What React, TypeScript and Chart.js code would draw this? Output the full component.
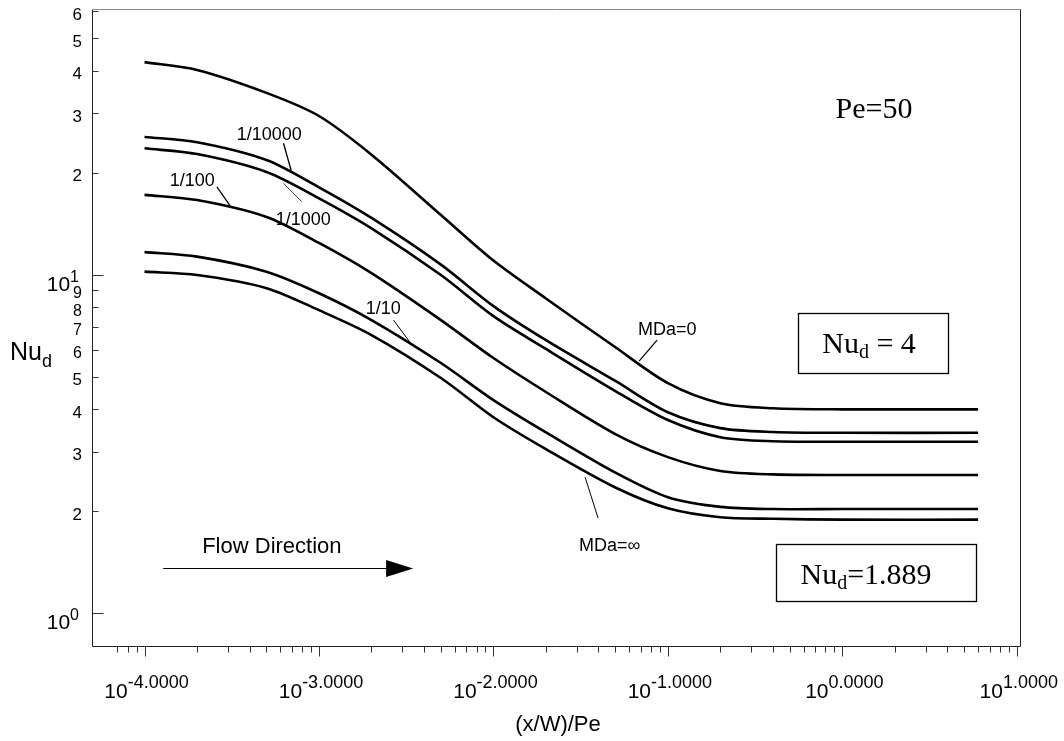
import React, { useEffect, useRef } from "react";
import { Chart, registerables } from "chart.js";

Chart.register(...registerables);

// ---- data ----
const xValues = [1e-4, 2e-4, 5e-4, 1e-3, 2e-3, 5e-3, 1e-2, 2e-2, 5e-2, 1e-1, 2e-1, 4e-1, 1, 6];
const nuMDa0 = [42.4, 40.2, 34.4, 29.4, 22.6, 15.0, 11.0, 8.5, 6.1, 4.78, 4.17, 4.03, 4.0, 4.0];
const nuMDa1e4 = [25.5, 24.6, 21.8, 18.1, 14.7, 10.7, 8.07, 6.4, 4.85, 3.92, 3.52, 3.43, 3.41, 3.41];
const nuMDa1e3 = [23.6, 22.7, 20.1, 16.8, 13.7, 9.97, 7.54, 6.03, 4.53, 3.72, 3.31, 3.22, 3.21, 3.21];
const nuMDa1e2 = [17.2, 16.6, 14.8, 12.4, 10.1, 7.34, 5.67, 4.5, 3.38, 2.89, 2.63, 2.57, 2.56, 2.56];
const nuMDa1e1 = [11.65, 11.3, 10.2, 8.81, 7.34, 5.48, 4.26, 3.42, 2.6, 2.2, 2.06, 2.03, 2.03, 2.03];
const nuMDaInf = [10.2, 9.97, 9.12, 7.85, 6.63, 4.95, 3.79, 3.05, 2.35, 2.04, 1.92, 1.9, 1.889, 1.889];

const seriesNames = ["MDa=0", "1/10000", "1/1000", "1/100", "1/10", "MDa=inf"];
const seriesValues = [nuMDa0, nuMDa1e4, nuMDa1e3, nuMDa1e2, nuMDa1e1, nuMDaInf];

// ---- axes ----
const xMin = 5e-5;
const xMax = 10.43;
const yMin = 0.8;
const yMax = 60.45;

const xMajorTicks = [1e-4, 1e-3, 1e-2, 1e-1, 1, 10];
const xMajorExponents = ["-4.0000", "-3.0000", "-2.0000", "-1.0000", "0.0000", "1.0000"];
const xMinorTicks = [
  7e-5, 8e-5, 9e-5,
  2e-4, 3e-4, 4e-4, 5e-4, 6e-4, 7e-4, 8e-4, 9e-4,
  2e-3, 3e-3, 4e-3, 5e-3, 6e-3, 7e-3, 8e-3, 9e-3,
  2e-2, 3e-2, 4e-2, 5e-2, 6e-2, 7e-2, 8e-2, 9e-2,
  0.2, 0.3, 0.4, 0.5, 0.6, 0.7, 0.8, 0.9,
  2, 3, 4, 5, 6, 7, 8, 9,
];
const yMajorTicks = [1, 10];
const yMajorExponents = ["0", "1"];
const yMinorTicks = [2, 3, 4, 5, 6, 7, 8, 9, 20, 30, 40, 50, 60];
const yMinorLabels = ["2", "3", "4", "5", "6", "7", "8", "9", "2", "3", "4", "5", "6"];
const yMinorSmall = [false, false, false, false, true, true, true, true, false, false, false, false, false];

const xTitle = "(x/W)/Pe";

// ---- annotations (anchored in data coordinates) ----
const curveLabels = [
  { text: "1/10000", x: 5.183e-4, y: 25.83, align: "center" },
  { text: "1/1000", x: 8.12e-4, y: 14.49, align: "center" },
  { text: "1/100", x: 1.877e-4, y: 18.89, align: "center" },
  { text: "1/10", x: 2.333e-3, y: 7.909, align: "center" },
  { text: "MDa=0", x: 0.06749, y: 6.855, align: "left" },
  { text: "MDa=\u221E", x: 0.03098, y: 1.5775, align: "left" },
];
const leaders = [
  { x1: 6.259e-4, y1: 24.42, x2: 6.93e-4, y2: 20.3, w: 1.3 },
  { x1: 6.259e-4, y1: 18.6, x2: 7.98e-4, y2: 16.41, w: 0.8 },
  { x1: 2.6e-4, y1: 18.17, x2: 3.139e-4, y2: 15.79, w: 1.3 },
  { x1: 2.673e-3, y1: 7.337, x2: 3.362e-3, y2: 6.262, w: 1 },
  { x1: 0.0867, y1: 6.405, x2: 0.0684, y2: 5.554, w: 1.2 },
  { x1: 0.03353, y1: 2.522, x2: 0.0398, y2: 1.909, w: 1 },
];
const peLabel = { text: "Pe=50", x: 1.519, y: 29.05 };
const box1 = { x1: 0.557, y1: 7.697, x2: 4.034, y2: 5.117, cx: 1.422, base: 5.864, value: " = 4" };
const box2 = { x1: 0.417, y1: 1.599, x2: 5.84, y2: 1.085, cx: 1.367, base: 1.218, value: "=1.889" };
const flow = { text: "Flow Direction", x: 5.37e-4, y: 1.567, ax1: 1.28e-4, ax2: 3.465e-3, head: 2.427e-3, ay: 1.358 };

const SANS = "'Liberation Sans', Arial, sans-serif";
const SERIF = "'Liberation Serif', 'Times New Roman', serif";

type Part = { text: string; font: string; dy: number };

function drawParts(ctx: CanvasRenderingContext2D, parts: Part[], x: number, baseline: number, align: "center" | "right" | "left") {
  let total = 0;
  const widths = parts.map((p) => {
    ctx.font = p.font;
    const w = ctx.measureText(p.text).width;
    total += w;
    return w;
  });
  let sx = x;
  if (align === "center") sx = x - total / 2;
  else if (align === "right") sx = x - total;
  ctx.textAlign = "left";
  ctx.textBaseline = "alphabetic";
  parts.forEach((p, i) => {
    ctx.font = p.font;
    ctx.fillText(p.text, sx, baseline + p.dy);
    sx += widths[i];
  });
}

const decorPlugin = {
  id: "decor",
  afterDraw(chart: any) {
    const ctx: CanvasRenderingContext2D = chart.ctx;
    const xs = chart.scales.x;
    const ys = chart.scales.y;
    const a = chart.chartArea;
    const px = (v: number) => xs.getPixelForValue(v);
    const py = (v: number) => ys.getPixelForValue(v);
    const L = Math.round(a.left) + 0.5;
    const R = Math.round(a.right) + 0.5;
    const T = Math.round(a.top) - 0.5;
    const B = Math.round(a.bottom) + 0.5;

    ctx.save();
    ctx.lineWidth = 1;
    // frame
    ctx.strokeStyle = "#8a8a8a";
    ctx.beginPath();
    ctx.moveTo(L, T);
    ctx.lineTo(R, T);
    ctx.stroke();
    ctx.strokeStyle = "#222";
    ctx.beginPath();
    ctx.moveTo(L, T);
    ctx.lineTo(L, B);
    ctx.lineTo(R, B);
    ctx.moveTo(R, T);
    ctx.lineTo(R, B);
    ctx.stroke();

    // x ticks (outward)
    ctx.strokeStyle = "#333";
    ctx.beginPath();
    xMajorTicks.forEach((v) => {
      const x = Math.round(px(v)) + 0.5;
      ctx.moveTo(x, B);
      ctx.lineTo(x, B + 10);
    });
    xMinorTicks.forEach((v) => {
      const x = Math.round(px(v)) + 0.5;
      ctx.moveTo(x, B);
      ctx.lineTo(x, B + 6);
    });
    // y ticks (inward)
    yMajorTicks.forEach((v) => {
      const y = Math.round(py(v)) + 0.5;
      ctx.moveTo(L, y);
      ctx.lineTo(L + 11, y);
    });
    yMinorTicks.forEach((v) => {
      const y = Math.round(py(v)) + 0.5;
      ctx.moveTo(L, y);
      ctx.lineTo(L + 6, y);
    });
    ctx.stroke();

    ctx.fillStyle = "#000";
    // x tick labels
    xMajorTicks.forEach((v, i) => {
      drawParts(
        ctx,
        [
          { text: "10", font: `21px ${SANS}`, dy: 0 },
          { text: xMajorExponents[i], font: `18px ${SANS}`, dy: -10 },
        ],
        px(v) + 2,
        B + 51,
        "center"
      );
    });
    // y tick labels
    yMajorTicks.forEach((v, i) => {
      drawParts(
        ctx,
        [
          { text: "10", font: `21px ${SANS}`, dy: 0 },
          { text: yMajorExponents[i], font: `16px ${SANS}`, dy: -9 },
        ],
        a.left - 13,
        py(v) + 16,
        "right"
      );
    });
    ctx.textAlign = "right";
    ctx.textBaseline = "middle";
    yMinorTicks.forEach((v, i) => {
      ctx.font = `${yMinorSmall[i] ? 16 : 17}px ${SANS}`;
      ctx.fillText(yMinorLabels[i], a.left - 10, py(v) + 4);
    });

    // axis titles
    ctx.textAlign = "center";
    ctx.textBaseline = "middle";
    ctx.font = `22px ${SANS}`;
    ctx.fillText(xTitle, (a.left + a.right) / 2 + 2, a.bottom + 79);
    drawParts(
      ctx,
      [
        { text: "Nu", font: `25px ${SANS}`, dy: 0 },
        { text: "d", font: `18px ${SANS}`, dy: 7 },
      ],
      10,
      (a.top + a.bottom) / 2 + 32,
      "left"
    );

    // leader lines
    ctx.strokeStyle = "#000";
    leaders.forEach((l) => {
      ctx.lineWidth = l.w;
      ctx.beginPath();
      ctx.moveTo(px(l.x1), py(l.y1));
      ctx.lineTo(px(l.x2), py(l.y2));
      ctx.stroke();
    });

    // curve labels
    ctx.font = `18px ${SANS}`;
    ctx.textBaseline = "middle";
    curveLabels.forEach((c) => {
      ctx.textAlign = c.align as CanvasTextAlign;
      ctx.fillText(c.text, px(c.x), py(c.y));
    });

    // Pe=50
    ctx.textAlign = "center";
    ctx.textBaseline = "alphabetic";
    ctx.font = `30px ${SERIF}`;
    ctx.fillText(peLabel.text, px(peLabel.x), py(peLabel.y));

    // boxes
    ctx.lineWidth = 1.3;
    [box1, box2].forEach((b) => {
      const x1 = Math.round(px(b.x1)) + 0.5;
      const x2 = Math.round(px(b.x2)) + 0.5;
      const y1 = Math.round(py(b.y1)) + 0.5;
      const y2 = Math.round(py(b.y2)) + 0.5;
      ctx.strokeRect(x1, y1, x2 - x1, y2 - y1);
      drawParts(
        ctx,
        [
          { text: "Nu", font: `30px ${SERIF}`, dy: 0 },
          { text: "d", font: `20px ${SERIF}`, dy: 5 },
          { text: b.value, font: `30px ${SERIF}`, dy: 0 },
        ],
        px(b.cx),
        py(b.base),
        "center"
      );
    });

    // flow direction
    ctx.textAlign = "center";
    ctx.textBaseline = "middle";
    ctx.font = `22px ${SANS}`;
    ctx.fillText(flow.text, px(flow.x), py(flow.y));
    const ay = Math.round(py(flow.ay)) + 0.5;
    ctx.lineWidth = 1.2;
    ctx.beginPath();
    ctx.moveTo(px(flow.ax1), ay);
    ctx.lineTo(px(flow.head), ay);
    ctx.stroke();
    ctx.beginPath();
    ctx.moveTo(px(flow.head), ay - 8.5);
    ctx.lineTo(px(flow.ax2), ay);
    ctx.lineTo(px(flow.head), ay + 8.5);
    ctx.closePath();
    ctx.fill();

    ctx.restore();
  },
};

export default function App() {
  const canvasRef = useRef<HTMLCanvasElement | null>(null);

  useEffect(() => {
    const canvas = canvasRef.current;
    if (!canvas) return;
    const chart = new Chart(canvas, {
      type: "line",
      data: {
        datasets: seriesValues.map((vals, i) => ({
          label: seriesNames[i],
          data: xValues.map((x, j) => ({ x, y: vals[j] })),
          borderColor: "#000",
          backgroundColor: "#000",
          borderWidth: 2.6,
          pointRadius: 0,
          fill: false,
          tension: 0.3,
        })),
      },
      options: {
        responsive: false,
        animation: false,
        devicePixelRatio: 1,
        layout: { padding: { left: 0, right: 44, top: 10, bottom: 0 } },
        plugins: {
          legend: { display: false },
          tooltip: { enabled: false },
        },
        scales: {
          x: {
            type: "logarithmic",
            min: xMin,
            max: xMax,
            bounds: "data",
            ticks: { display: false },
            grid: { display: false },
            border: { display: false },
            afterFit: (s: any) => {
              s.height = 95;
            },
          },
          y: {
            type: "logarithmic",
            min: yMin,
            max: yMax,
            bounds: "data",
            ticks: { display: false },
            grid: { display: false },
            border: { display: false },
            afterFit: (s: any) => {
              s.width = 92;
            },
          },
        },
      } as any,
      plugins: [decorPlugin],
    });
    return () => chart.destroy();
  }, []);

  return (
    <div style={{ position: "fixed", left: 0, top: 0, width: 1064, height: 741, background: "#fff" }}>
      <canvas ref={canvasRef} width={1064} height={741} style={{ display: "block" }} />
    </div>
  );
}
